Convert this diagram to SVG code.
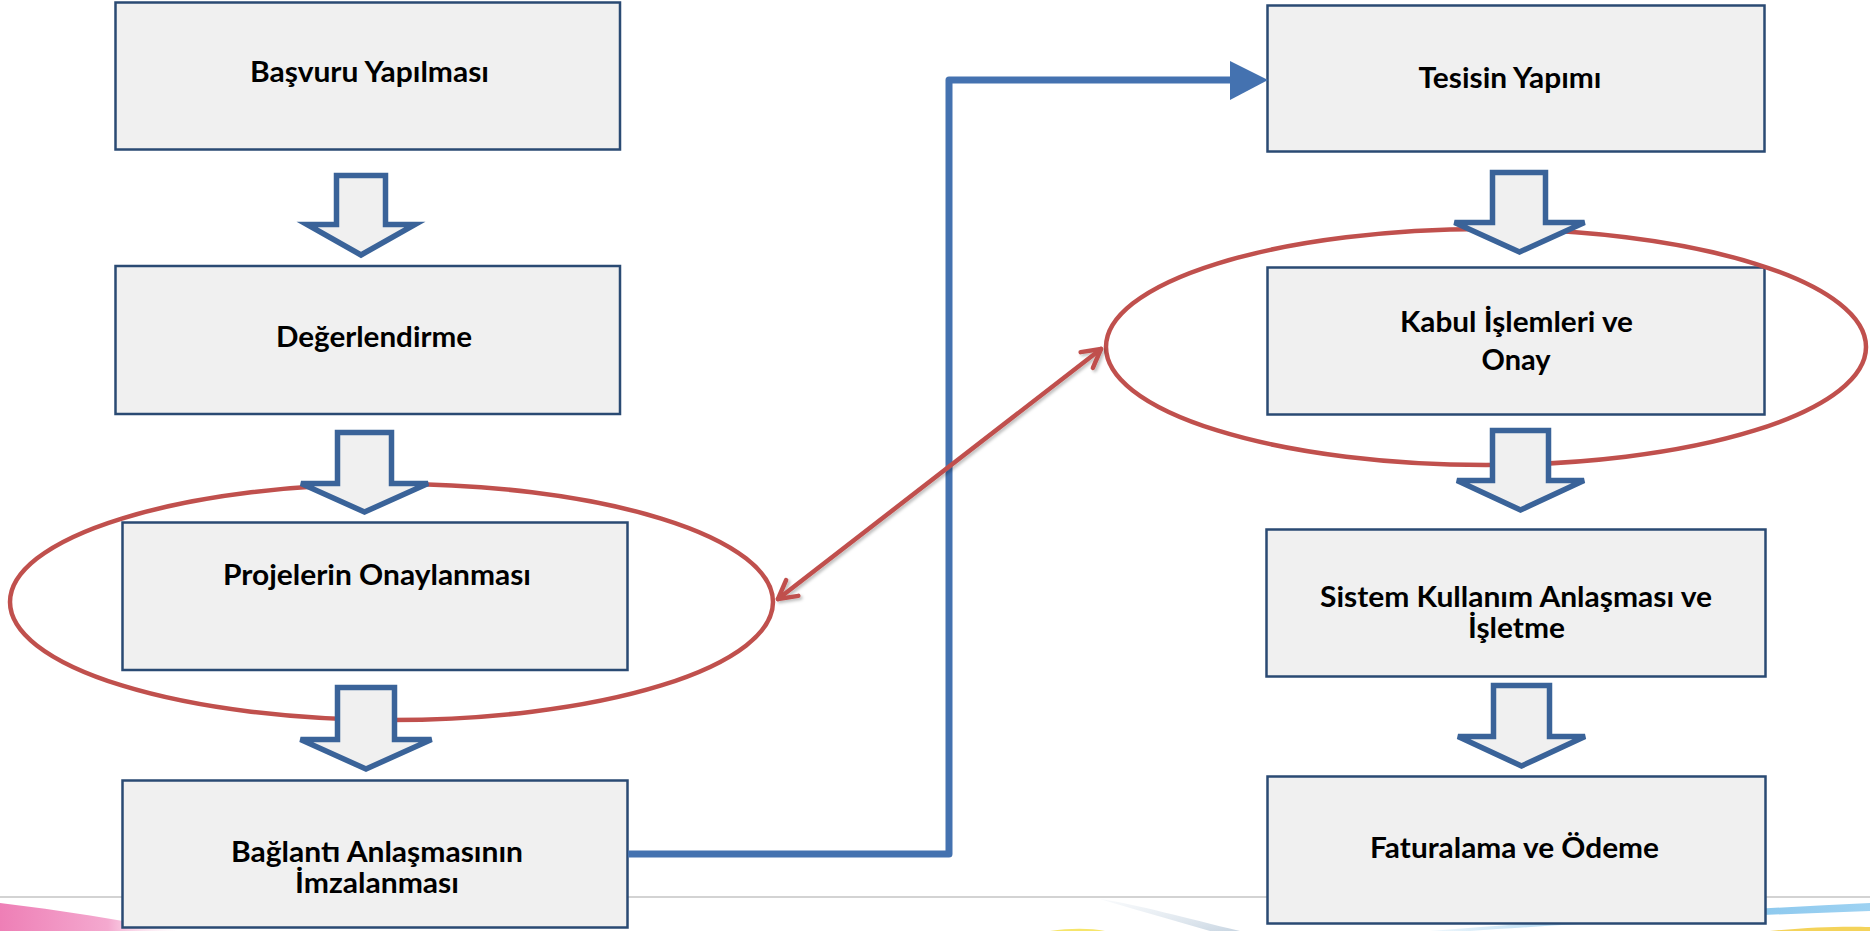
<svg xmlns="http://www.w3.org/2000/svg" width="1870" height="931" viewBox="0 0 1870 931">
  <defs>
    <style>
      .box { fill: #F0F0F0; stroke: #2A4A73; stroke-width: 2.5; }
      .blk { fill: #F0F0F0; stroke: #3A6399; stroke-width: 5.5; stroke-linejoin: miter; }
      .lbl { font-family: "Lato", "Open Sans", "DejaVu Sans", sans-serif; font-weight: 700; font-size: 28.5px; fill: #000000; text-anchor: middle; }
      .ring { fill: none; stroke: #C0504D; stroke-width: 4.5; }
      .link { fill: none; stroke: #4472B0; stroke-width: 7; stroke-linejoin: round; }
      .rlink { fill: none; stroke: #C0504D; stroke-width: 4.5; stroke-linecap: round; }
    </style>
    <marker id="openHead" viewBox="0 0 26 26" refX="22" refY="13" markerWidth="26" markerHeight="26" markerUnits="userSpaceOnUse" orient="auto-start-reverse">
      <path d="M4,3 L22,13 L4,23" fill="none" stroke="#C0504D" stroke-width="4.5" stroke-linecap="round" stroke-linejoin="round"/>
    </marker>
    <filter id="shadow" x="-10%" y="-10%" width="130%" height="130%">
      <feDropShadow dx="2" dy="2" stdDeviation="1.5" flood-color="#000000" flood-opacity="0.25"/>
    </filter>
    <linearGradient id="pinkG" x1="0" y1="0" x2="1" y2="0">
      <stop offset="0" stop-color="#EE7FB6"/>
      <stop offset="0.6" stop-color="#F4A9CF"/>
      <stop offset="1" stop-color="#FCE4F0" stop-opacity="0"/>
    </linearGradient>
    <linearGradient id="blueG" x1="0" y1="0" x2="1" y2="0">
      <stop offset="0" stop-color="#A9D4F0" stop-opacity="0.2"/>
      <stop offset="0.5" stop-color="#7CC0EA"/>
      <stop offset="1" stop-color="#9ED2F2"/>
    </linearGradient>
    <linearGradient id="grayG" x1="0" y1="0" x2="1" y2="1">
      <stop offset="0" stop-color="#E8EEF4" stop-opacity="0.3"/>
      <stop offset="1" stop-color="#C9D6E2"/>
    </linearGradient>
  </defs>

  <!-- background decoration -->
  <g id="decor">
    <line x1="0" y1="897" x2="1870" y2="897" stroke="#C4C4C4" stroke-width="1.5"/>
    <path d="M0,903 C60,910 120,920 180,931 L0,931 Z" fill="url(#pinkG)"/>
    <path d="M1100,899 C1140,905 1185,918 1240,931 L1210,931 C1165,918 1130,908 1100,899 Z" fill="url(#grayG)"/>
    <path d="M1050,931 C1070,928 1090,928 1105,931 Z" fill="#F6E56B"/>
    <path d="M1430,931 C1570,920 1720,910 1870,903 L1870,911 C1720,916 1570,924 1470,931 Z" fill="url(#blueG)"/>
    <path d="M1770,931 C1810,927 1845,926 1870,927 L1870,931 Z" fill="#F4D35A"/>
  </g>

  <!-- nodes -->
  <g id="n1"><rect class="box" x="115.5" y="2.5" width="504.5" height="147"/>
    <text class="lbl" x="369.5" y="82" textLength="239" lengthAdjust="spacingAndGlyphs">Başvuru Yapılması</text></g>
  <g id="n2"><rect class="box" x="115.5" y="266" width="504.5" height="148"/>
    <text class="lbl" x="374" y="347" textLength="196" lengthAdjust="spacingAndGlyphs">Değerlendirme</text></g>
  <g id="n3"><rect class="box" x="122.5" y="522.5" width="505" height="147.5"/>
    <text class="lbl" x="377" y="585" textLength="308" lengthAdjust="spacingAndGlyphs">Projelerin Onaylanması</text></g>
  <g id="n4"><rect class="box" x="122.5" y="780.5" width="505" height="147"/>
    <text class="lbl" x="377" y="862" textLength="292" lengthAdjust="spacingAndGlyphs">Bağlantı Anlaşmasının</text>
    <text class="lbl" x="377" y="893" textLength="164" lengthAdjust="spacingAndGlyphs">İmzalanması</text></g>
  <g id="n5"><rect class="box" x="1267.5" y="5.5" width="497" height="146"/>
    <text class="lbl" x="1510" y="88" textLength="183" lengthAdjust="spacingAndGlyphs">Tesisin Yapımı</text></g>
  <g id="n6"><rect class="box" x="1267.5" y="267.5" width="497" height="147"/>
    <text class="lbl" x="1516.5" y="332" textLength="233" lengthAdjust="spacingAndGlyphs">Kabul İşlemleri ve</text>
    <text class="lbl" x="1516" y="370" textLength="69" lengthAdjust="spacingAndGlyphs">Onay</text></g>
  <g id="n7"><rect class="box" x="1266.5" y="529.5" width="499" height="147"/>
    <text class="lbl" x="1516" y="607" textLength="392" lengthAdjust="spacingAndGlyphs">Sistem Kullanım Anlaşması ve</text>
    <text class="lbl" x="1516.5" y="638" textLength="97" lengthAdjust="spacingAndGlyphs">İşletme</text></g>
  <g id="n8"><rect class="box" x="1267.5" y="776.5" width="498" height="147"/>
    <text class="lbl" x="1514.5" y="858" textLength="289" lengthAdjust="spacingAndGlyphs">Faturalama ve Ödeme</text></g>

  <!-- highlight ellipses -->
  <g id="highlights">
    <ellipse class="ring" cx="391.5" cy="602" rx="381.5" ry="118"/>
    <ellipse class="ring" cx="1486" cy="347" rx="380" ry="118"/>
  </g>

  <!-- connectors -->
  <g id="connectors">
    <polygon class="blk" points="336.5,175.5 385.5,175.5 385.5,224.5 415,224.5 361,255 307,224.5 336.5,224.5"/>
    <polygon class="blk" points="337.5,432.5 391.5,432.5 391.5,483.5 428,483.5 364.5,512 301,483.5 337.5,483.5"/>
    <polygon class="blk" points="337.5,687.5 394.5,687.5 394.5,739.5 431.5,739.5 366,769 300.5,739.5 337.5,739.5"/>
    <polygon class="blk" points="1492.5,172.5 1545.5,172.5 1545.5,222.5 1584.5,222.5 1519.5,252 1454.5,222.5 1492.5,222.5"/>
    <polygon class="blk" points="1492.5,430.5 1548.5,430.5 1548.5,480.5 1584,480.5 1520.5,510 1457,480.5 1492.5,480.5"/>
    <polygon class="blk" points="1493.5,685.5 1549.5,685.5 1549.5,736.5 1585,736.5 1521.5,766 1458,736.5 1493.5,736.5"/>
    <path class="link" d="M628,854 H949 V80 H1234"/>
    <polygon points="1230,61 1268,80 1230,100" fill="#4472B0"/>
    <line class="rlink" x1="778" y1="599" x2="1101" y2="349" marker-start="url(#openHead)" marker-end="url(#openHead)" filter="url(#shadow)"/>
  </g>
</svg>
